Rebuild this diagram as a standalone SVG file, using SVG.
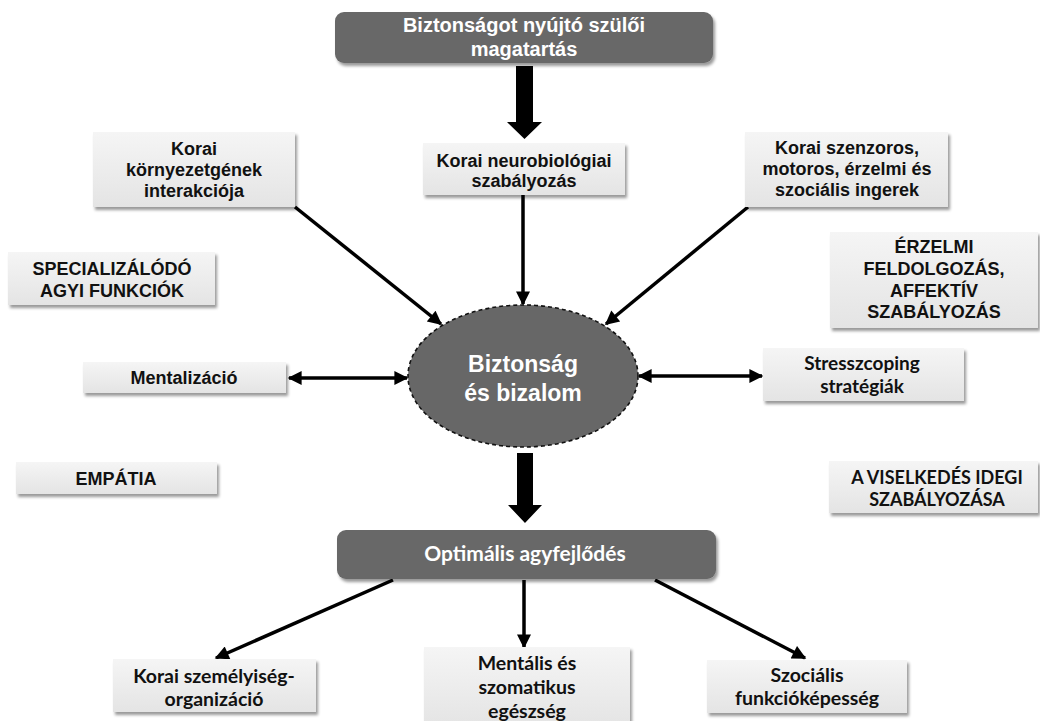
<svg xmlns="http://www.w3.org/2000/svg" width="1040" height="721" viewBox="0 0 1040 721">
<defs>
<linearGradient id="lg" x1="0" y1="0" x2="0" y2="1">
<stop offset="0" stop-color="#f5f5f5"/>
<stop offset="1" stop-color="#e4e4e4"/>
</linearGradient>
<filter id="sh" x="-10%" y="-20%" width="125%" height="150%">
<feDropShadow dx="2" dy="3" stdDeviation="1.5" flood-color="#000" flood-opacity="0.4"/>
</filter>
<marker id="ah" viewBox="0 0 10 10" refX="9" refY="5" markerWidth="16" markerHeight="14" markerUnits="userSpaceOnUse" orient="auto-start-reverse">
<path d="M0,0 L10,5 L0,10 z" fill="#000"/>
</marker>
<style>
.box{fill:url(#lg);filter:url(#sh);}
.dark{fill:#676767;filter:url(#sh);}
.t{font-family:"Liberation Sans",Arial,sans-serif;font-weight:bold;font-size:18px;fill:#111;text-anchor:middle;}
.m{font-family:Lato,"Open Sans",sans-serif;font-weight:bold;font-size:19.5px;fill:#111;text-anchor:middle;}
.w{fill:#fff;}
.ln{stroke:#000;stroke-width:3.5;fill:none;}
</style>
</defs>

<g id="connectors">
<polygon points="516,66 533,66 533,122 542,122 524.5,139 507,122 516,122" fill="#000"/>
<polygon points="517,453 533,453 533,505 542,505 525,523 508,505 517,505" fill="#000"/>
<line class="ln" x1="523" y1="195" x2="523" y2="304" marker-end="url(#ah)"/>
<line class="ln" x1="295" y1="207" x2="441" y2="324" marker-end="url(#ah)"/>
<line class="ln" x1="748" y1="207" x2="606" y2="324" marker-end="url(#ah)"/>
<line class="ln" x1="289" y1="378" x2="407" y2="378" marker-start="url(#ah)" marker-end="url(#ah)"/>
<line class="ln" x1="639" y1="376" x2="762" y2="376" marker-start="url(#ah)" marker-end="url(#ah)"/>
<line class="ln" x1="393" y1="580" x2="216" y2="658" marker-end="url(#ah)"/>
<line class="ln" x1="524" y1="580" x2="524" y2="647" marker-end="url(#ah)"/>
<line class="ln" x1="655" y1="580" x2="805" y2="658" marker-end="url(#ah)"/>
</g>

<g id="n-top">
<rect class="dark" x="335" y="12" width="378" height="51" rx="9"/>
<text class="t w" x="524" y="32" style="font-size:20px">Biztonságot nyújtó szülői</text>
<text class="t w" x="524" y="56" style="font-size:20px">magatartás</text>
</g>

<g id="n-neuro">
<rect class="box" x="423" y="143" width="202" height="52"/>
<text class="t" x="524" y="167">Korai neurobiológiai</text>
<text class="t" x="524" y="187">szabályozás</text>
</g>

<g id="n-kornyezet">
<rect class="box" x="93" y="132" width="202" height="75"/>
<text class="t" x="194" y="155">Korai</text>
<text class="t" x="194" y="176">környezetgének</text>
<text class="t" x="194" y="197">interakciója</text>
</g>

<g id="n-szenzoros">
<rect class="box" x="745" y="132" width="203" height="75"/>
<text class="t" x="847" y="154">Korai szenzoros,</text>
<text class="t" x="847" y="175">motoros, érzelmi és</text>
<text class="t" x="847" y="196">szociális ingerek</text>
</g>

<g id="n-special">
<rect class="box" x="8" y="252" width="207" height="53"/>
<text class="t" x="112" y="275">SPECIALIZÁLÓDÓ</text>
<text class="t" x="112" y="297">AGYI FUNKCIÓK</text>
</g>

<g id="n-erzelmi">
<rect class="box" x="830" y="232" width="208" height="96"/>
<text class="t" x="934" y="253">ÉRZELMI</text>
<text class="t" x="934" y="275">FELDOLGOZÁS,</text>
<text class="t" x="934" y="297">AFFEKTÍV</text>
<text class="t" x="934" y="318">SZABÁLYOZÁS</text>
</g>

<g id="n-mentalizacio">
<rect class="box" x="83" y="362" width="203" height="31"/>
<text class="t" x="184" y="384">Mentalizáció</text>
</g>

<g id="n-empatia">
<rect class="box" x="16" y="462" width="201" height="32"/>
<text class="t" x="116" y="485">EMPÁTIA</text>
</g>

<g id="n-center">
<ellipse cx="523" cy="376" rx="115" ry="71" fill="#676767" stroke="#111" stroke-width="1.6" stroke-dasharray="4 3"/>
<text class="t w" x="523" y="372" style="font-size:23px">Biztonság</text>
<text class="t w" x="523" y="401" style="font-size:23px">és bizalom</text>
</g>

<g id="n-stress">
<rect class="box" x="763" y="348" width="201" height="53"/>
<text class="m" x="862" y="370" style="font-size:19px">Stresszcoping</text>
<text class="m" x="862" y="393" style="font-size:19px">stratégiák</text>
</g>

<g id="n-viselkedes">
<rect class="box" x="829" y="461" width="209" height="52"/>
<text class="m" x="937" y="484" style="font-size:18px">A VISELKEDÉS IDEGI</text>
<text class="m" x="937" y="506" style="font-size:18px">SZABÁLYOZÁSA</text>
</g>

<g id="n-optimalis">
<rect class="dark" x="337" y="530" width="379" height="49" rx="9"/>
<text class="m w" x="525" y="561" style="font-size:21px">Optimális agyfejlődés</text>
</g>

<g id="n-szemelyiseg">
<rect class="box" x="113" y="659" width="203" height="53"/>
<text class="m" x="214" y="683">Korai személyiség-</text>
<text class="m" x="214" y="706">organizáció</text>
</g>

<g id="n-mentalis">
<rect class="box" x="424" y="647" width="206" height="80"/>
<text class="m" x="527" y="670">Mentális és</text>
<text class="m" x="527" y="694">szomatikus</text>
<text class="m" x="527" y="718">egészség</text>
</g>

<g id="n-szocialis">
<rect class="box" x="707" y="660" width="200" height="53"/>
<text class="m" x="807" y="682">Szociális</text>
<text class="m" x="807" y="705">funkcióképesség</text>
</g>
</svg>
